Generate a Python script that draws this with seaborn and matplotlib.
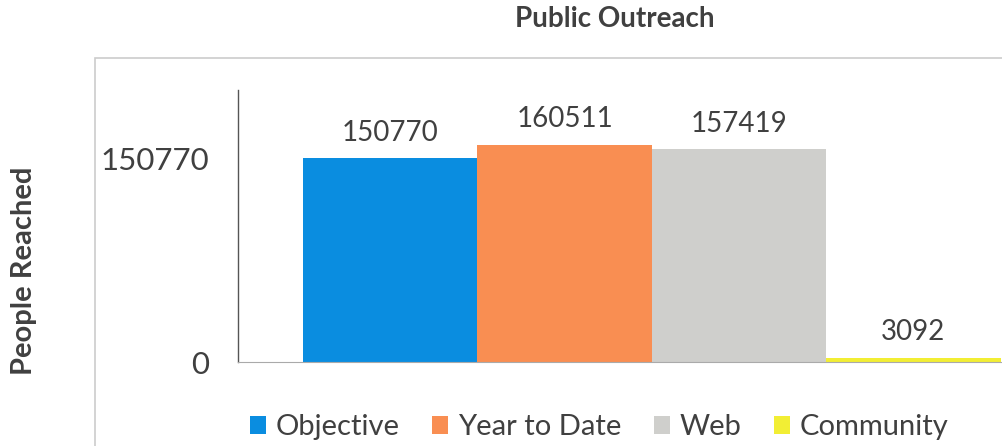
import matplotlib
matplotlib.use('Agg')
import matplotlib.pyplot as plt
import pandas as pd
import seaborn as sns
from matplotlib.patches import Rectangle

# Data
series = ['Objective', 'Year to Date', 'Web', 'Community']
people_reached = [150770, 160511, 157419, 3092]
colors = ['#0a8de0', '#f98e52', '#cfcfcc', '#f2ee34']
y_ticks = [0, 150770]

df = pd.DataFrame({'series': series, 'value': people_reached})

sns.set_theme(style='white')
plt.rcParams['font.family'] = ['Lato', 'DejaVu Sans']
text_color = '#404040'

fig = plt.figure(figsize=(10.02, 4.46), dpi=100)
# axes deliberately run off the right edge, like the cropped original
ax = fig.add_axes([0.2375, 0.188, 0.826, 0.61])

sns.barplot(data=df, x='series', y='value', hue='series', palette=colors,
            width=1.0, dodge=False, saturation=1, legend=True,
            linewidth=0, ax=ax)

for cont in ax.containers:
    ax.bar_label(cont, fmt='%d', padding=9, fontsize=20, color=text_color)

ax.set_xlim(-0.873, 3.873)
ax.set_ylim(0, 201000)
ax.set_yticks(y_ticks)
ax.set_yticklabels([str(v) for v in y_ticks], fontsize=22.5, color=text_color)
ax.tick_params(axis='y', length=0, pad=21)
ax.set_xticks([])
ax.set_xlabel('')
ax.set_ylabel('')

for side in ['top', 'right']:
    ax.spines[side].set_visible(False)
ax.spines['left'].set_color('#555555')
ax.spines['left'].set_linewidth(1.0)
ax.spines['bottom'].set_color('#aaaaaa')
ax.spines['bottom'].set_linewidth(0.8)

sns.move_legend(ax, 'center', bbox_to_anchor=(0.598, 0.042),
                bbox_transform=fig.transFigure, ncol=4, frameon=False,
                title=None, fontsize=21, handlelength=0.55, handleheight=0.55,
                handletextpad=0.35, columnspacing=1.1, labelcolor=text_color)

# outer chart-area border (also cropped on right and bottom)
fig.add_artist(Rectangle((0.095, -0.05), 1.0, 0.92, transform=fig.transFigure,
                         fill=False, edgecolor='#cccccc', linewidth=1.2))

fig.text(0.614, 0.958, 'Public Outreach', ha='center', va='center',
         fontsize=20, fontweight='bold', color=text_color)
fig.text(0.024, 0.393, 'People Reached', ha='center', va='center',
         rotation=90, fontsize=21, fontweight='bold', color=text_color)

fig.savefig('out.png', dpi=100)
